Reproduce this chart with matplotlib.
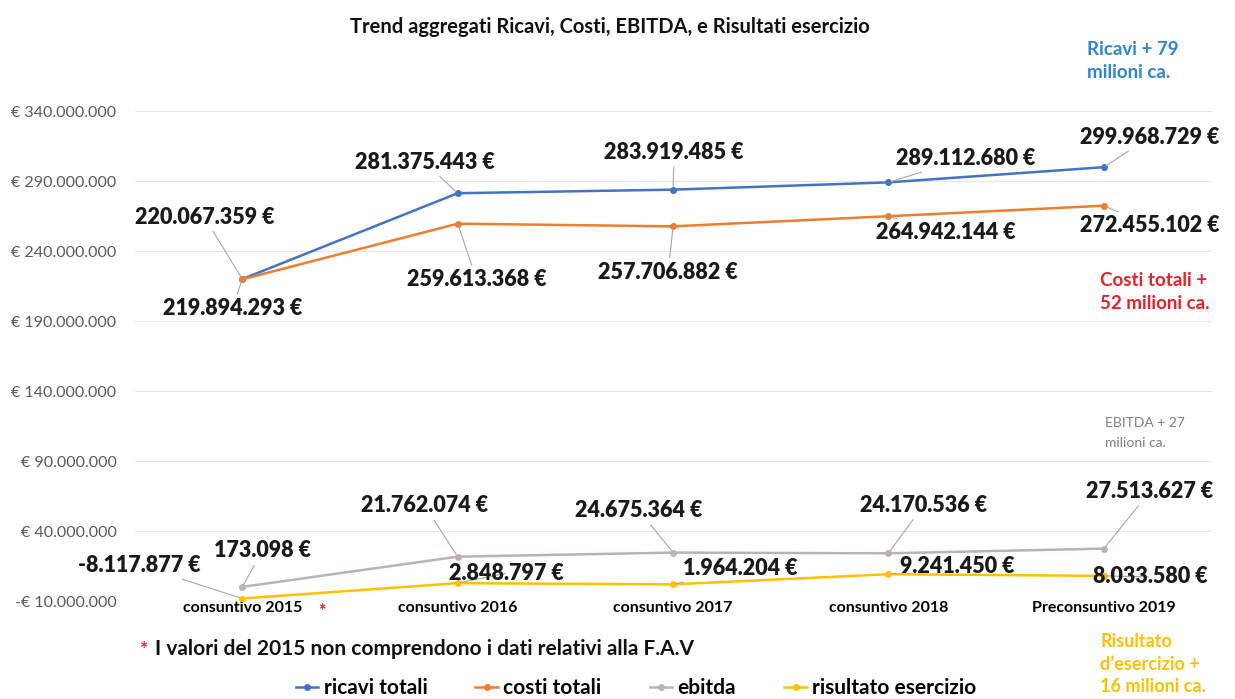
import numpy as np
import matplotlib
matplotlib.use("Agg")
import matplotlib.pyplot as plt
from matplotlib.ticker import FuncFormatter

plt.rcParams['font.family'] = ['Lato', 'DejaVu Sans']

categorie = ['consuntivo 2015', 'consuntivo 2016', 'consuntivo 2017',
             'consuntivo 2018', 'Preconsuntivo 2019']
ricavi = [220067359, 281375443, 283919485, 289112680, 299968729]
costi = [219894293, 259613368, 257706882, 264942144, 272455102]
ebitda = [173098, 21762074, 24675364, 24170536, 27513627]
risultato = [-8117877, 2848797, 1964204, 9241450, 8033580]

nomi = ['ricavi totali', 'costi totali', 'ebitda', 'risultato esercizio']
colori = ['#4472c4', '#ed7d31', '#bdb0b6', '#ffc000']

# label offsets in pixels (dx, dy) from each point
off_ricavi = [(-38, 62), (-33, 31), (1, 37), (77, 24), (46, 30)]
off_costi = [(-10, -29), (19, -56), (-5, -46), (57, -16), (46, -20)]
off_ebitda = [(20, 36), (-33, 51), (-34, 42), (35, 48), (46, 57)]
off_ris = [(-103, 33), (49, 10), (67, 16), (69, 8), (46, -1)]


def euro(v):
    s = f"{abs(v):,.0f}".replace(",", ".")
    return ("-" if v < 0 else "") + s + " €"


fig = plt.figure(figsize=(12.35, 6.99), dpi=100)
ax = fig.add_axes([0.109, 0.140, 0.872, 0.701])

x = np.arange(len(categorie))
serie = [ricavi, costi, ebitda, risultato]
offsets = [off_ricavi, off_costi, off_ebitda, off_ris]

for vals, nome, col, offs in zip(serie, nomi, colori, offsets):
    ax.plot(x, vals, color=col, lw=1.8, marker='o', markersize=4, label=nome, zorder=3)
    for xi, v, (dx, dy) in zip(x, vals, offs):
        ax.annotate(euro(v), xy=(xi, v), xytext=(dx, dy), textcoords='offset pixels',
                    ha='center', va='center', fontsize=15.5, fontweight='heavy',
                    color='#1a1a1a',
                    arrowprops=dict(arrowstyle='-', color='#a6a6a6', lw=0.8,
                                    shrinkA=1, shrinkB=2))

ax.set_xlim(-0.5, 4.5)
ax.set_ylim(-10000000, 340000000)
ax.set_yticks(np.arange(-10000000, 340000001, 50000000))


def fmt(v, pos):
    s = f"{abs(v):,.0f}".replace(",", ".")
    return ("-€ " if v < 0 else "€ ") + s


ax.yaxis.set_major_formatter(FuncFormatter(fmt))
ax.tick_params(axis='y', length=0, labelsize=11.5, labelcolor='#595959', pad=13)
ax.grid(axis='y', color='#e6e6e6', lw=0.8)
ax.set_axisbelow(True)

ax.spines['bottom'].set_position(('data', 0))
ax.set_xticks(x)
ax.set_xticklabels(categorie, fontsize=11.5, fontweight='bold')
ax.tick_params(axis='x', length=0, pad=10)
for s in ax.spines.values():
    s.set_visible(False)

ax.annotate('*', xy=(0, 0), xytext=(80, -24), textcoords='offset pixels',
            ha='center', va='center', color='#e8202a', fontsize=13, fontweight='bold')

fig.text(610 / 1235, 1 - 27 / 699, 'Trend aggregati Ricavi, Costi, EBITDA, e Risultati esercizio',
         ha='center', va='center', fontsize=14.5, fontweight='bold', color='#111111')

fig.text(140 / 1235, 1 - 649 / 699, '*', ha='left', va='center', color='#e8202a',
         fontsize=14, fontweight='bold')
fig.text(155 / 1235, 1 - 649 / 699, 'I valori del 2015 non comprendono i dati relativi alla F.A.V',
         ha='left', va='center', fontsize=15, fontweight='bold', color='#111111')

fig.text(1087 / 1235, 1 - 61 / 699, 'Ricavi + 79\nmilioni ca.', ha='left', va='center',
         fontsize=13.5, fontweight='bold', color='#2e86d1', linespacing=1.45)
fig.text(1100 / 1235, 1 - 292 / 699, 'Costi totali +\n52 milioni ca.', ha='left', va='center',
         fontsize=13.5, fontweight='bold', color='#e8202a', linespacing=1.4)
fig.text(1105 / 1235, 1 - 433 / 699, 'EBITDA + 27\nmilioni ca.', ha='left', va='center',
         fontsize=10, color='#7f7f7f', linespacing=1.85)
fig.text(1100 / 1235, 1 - 664 / 699, "Risultato\nd\u2019esercizio +\n16 milioni ca.", ha='left',
         va='center', fontsize=13, fontweight='bold', color='#ffc000', linespacing=1.4)

fig.legend(loc='center', bbox_to_anchor=(636 / 1235, 1 - 688 / 699), ncol=4, frameon=False,
           prop={'size': 15, 'weight': 'bold'}, handlelength=1.1, handletextpad=0.25,
           columnspacing=2.3)

fig.savefig('out.png', dpi=100, facecolor='white')
